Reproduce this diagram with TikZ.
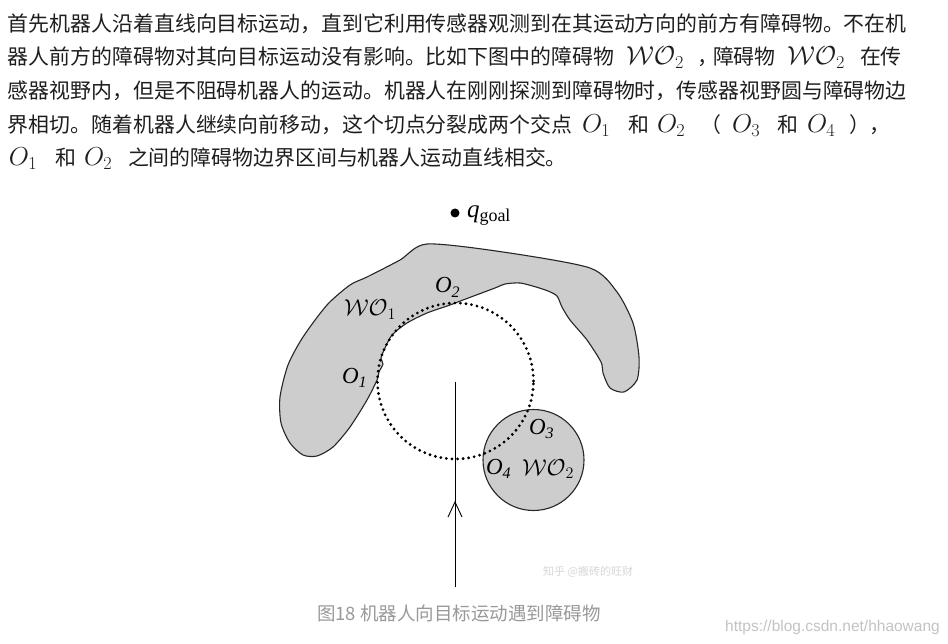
\RequirePackage{fix-cm}
\documentclass[tikz,border=0pt]{standalone}
\usepackage{fontspec}
\newfontfamily\cjk{Noto Sans CJK SC}
\newfontfamily\tnr{Liberation Serif}
\newfontfamily\lsans{Liberation Sans}
\definecolor{txtc}{RGB}{30,30,30}
\definecolor{obsfill}{RGB}{205,205,205}
\definecolor{capc}{RGB}{153,153,153}
\definecolor{wmc}{RGB}{195,195,195}
\definecolor{zhc}{RGB}{215,215,215}
\newcommand\subl[1]{\raisebox{-4.5pt}{\fontsize{16}{16}\selectfont #1}}
\begin{document}
\begin{tikzpicture}[x=1pt,y=-1pt,
  txt/.style={anchor=base west, inner sep=0pt, outer sep=0pt, text=txtc, font=\cjk\fontsize{20.9}{20.9}\selectfont},
  mth/.style={anchor=base west, inner sep=0pt, outer sep=0pt, text=txtc, font=\fontsize{26}{26}\selectfont},
  lab/.style={anchor=base west, inner sep=0pt, outer sep=0pt, font=\tnr\fontsize{23}{23}\selectfont},
  cal/.style={anchor=base west, inner sep=0pt, outer sep=0pt, font=\fontsize{23}{23}\selectfont},
  obst/.style={draw=black!85, line width=1.1pt, fill=obsfill},
  sensor/.style={draw=black, line width=3.1pt, line cap=round, dash pattern=on 0pt off 5.6pt},
  motion/.style={draw=black, line width=0.9pt},
]
\useasboundingbox (0,0) rectangle (948,644);
\fill[white] (0,0) rectangle (948,644);

% paragraph
\node[txt] (l1) at (8,32) {首先机器人沿着直线向目标运动，直到它利用传感器观测到在其运动方向的前方有障碍物。不在机};
\node[txt] (l2a) at (8,65) {器人前方的障碍物对其向目标运动没有影响。比如下图中的障碍物};
\node[mth] (l2b) at (626,65) {$\mathcal{WO}_2$};
\node[txt] (l2c) at (697,65) {，};
\node[txt] (l2d) at (713,65) {障碍物};
\node[mth] (l2e) at (787,65) {$\mathcal{WO}_2$};
\node[txt] (l2f) at (860,65) {在传};
\node[txt] (l3) at (8,99) {感器视野内，但是不阻碍机器人的运动。机器人在刚刚探测到障碍物时，传感器视野圆与障碍物边};
\node[txt] (l4a) at (8,133) {界相切。随着机器人继续向前移动，这个切点分裂成两个交点};
\node[mth] (l4b) at (582,133) {$O_1$};
\node[txt] (l4c) at (628,133) {和};
\node[mth] (l4d) at (657,133) {$O_2$};
\node[txt] (l4e) at (700,133) {（};
\node[mth] (l4f) at (732,133) {$O_3$};
\node[txt] (l4g) at (777,133) {和};
\node[mth] (l4h) at (807,133) {$O_4$};
\node[txt] (l4i) at (849,133) {），};
\node[mth] (l5a) at (9,166) {$O_1$};
\node[txt] (l5b) at (55,166) {和};
\node[mth] (l5c) at (84,166) {$O_2$};
\node[txt] (l5d) at (128,166) {之间的障碍物边界区间与机器人运动直线相交。};

% obstacle WO1
\draw[obst] plot[smooth cycle, tension=0.45] coordinates {(427,244) (503,252) (590,268) (617,292) (633,323) (639,357) (637,380) (624,392) (610,388) (603,373) (601,362) (587,340) (570,320) (562,307) (557,296) (548,291) (536,287) (520,283) (505,284) (495,288) (463,300) (450,305) (427,313) (407,323) (392,335) (385,348) (381,358) (383,364) (379,372) (377,380) (367,400) (350,427) (333,447) (317,456) (303,455) (290,443) (281,423) (280,397) (288,365) (303,337) (327,305) (350,285) (367,277) (400,260)};

% obstacle WO2
\node[circle, obst, minimum size=101pt, inner sep=0pt] (wo2) at (533.5,460) {};

% sensor circle
\node[circle, sensor, minimum size=156pt, inner sep=0pt] (sens) at (455.5,381) {};

% motion line
\coordinate (rs) at (455,587);
\coordinate (re) at (455,382);
\coordinate (tip) at (455,502);
\draw[motion] (rs) -- (re);
\draw[motion] ([shift={(-7,15)}]tip) -- (tip) -- ([shift={(7,15)}]tip);

% goal
\fill (455,213) circle[radius=4.5];
\node[lab] (qg) at (467,218) {\fontsize{25}{25}\selectfont\itshape q\raisebox{-4pt}{\fontsize{18}{18}\selectfont\upshape goal}};

% labels
\node[lab] (o2) at (435,293) {\itshape O\subl{2}};
\node[cal] (wo1) at (344,316) {$\mathcal{WO}_1$};
\node[lab] (o1) at (342,383) {\itshape O\subl{1}};
\node[lab] (o3) at (529,434) {\itshape O\subl{3}};
\node[lab] (o4) at (486,474) {\itshape O\subl{4}};
\node[cal] (wo2l) at (522,475) {$\mathcal{WO}_2$};

% caption and marks
\node[anchor=center, inner sep=0pt, text=capc, font=\cjk\fontsize{18.5}{18.5}\selectfont] (cap) at (459,613) {图18 机器人向目标运动遇到障碍物};
\node[anchor=base east, inner sep=0pt, text=wmc, font=\lsans\fontsize{15.5}{15.5}\selectfont] (wm) at (940,631) {https://blog.csdn.net/hhaowang};
\node[anchor=west, inner sep=0pt, text=zhc, font=\cjk\fontsize{11}{11}\selectfont] (zh) at (543,572) {知乎 @搬砖的旺财};
\end{tikzpicture}
\end{document}
